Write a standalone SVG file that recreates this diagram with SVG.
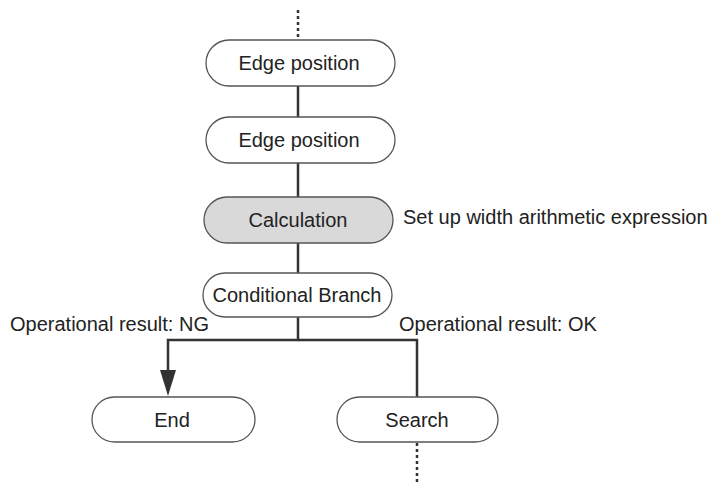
<svg xmlns="http://www.w3.org/2000/svg" width="715" height="483" viewBox="0 0 715 483">
<style>
.node{fill:#fff;stroke:#555;stroke-width:1.3}
.gray{fill:#d9d9d9}
.t{font-family:"Liberation Sans",Arial,sans-serif;font-size:20px;fill:#222}
.c{text-anchor:middle;dominant-baseline:central}
.ln{stroke:#333;stroke-width:2.5;fill:none}
.dot{stroke:#333;stroke-width:2.5;fill:none;stroke-dasharray:3 3}
</style>
<rect width="715" height="483" fill="#fff"/>
<g id="connectors">
<line class="dot" x1="298" y1="10" x2="298" y2="40"/>
<line class="ln" x1="298" y1="86" x2="298" y2="118"/>
<line class="ln" x1="298" y1="163" x2="298" y2="197"/>
<line class="ln" x1="298" y1="243" x2="298" y2="273"/>
<polyline class="ln" points="298,317 298,340 168,340 168,372"/>
<polygon points="160,370 176,370 168,396" fill="#333"/>
<polyline class="ln" points="298,340 417,340 417,397"/>
<line class="dot" x1="417" y1="443" x2="417" y2="483"/>
</g>
<g id="n1"><rect class="node" x="206" y="40" width="189" height="46" rx="23"/><text class="t c" x="299" y="63">Edge position</text></g>
<g id="n2"><rect class="node" x="206" y="117" width="189" height="46" rx="23"/><text class="t c" x="299" y="140">Edge position</text></g>
<g id="n3"><rect class="node gray" x="204" y="197" width="189" height="46" rx="23"/><text class="t c" x="298" y="220">Calculation</text></g>
<text class="t" x="403" y="224">Set up width arithmetic expression</text>
<g id="n4"><rect class="node" x="203" y="273" width="189" height="44" rx="22"/><text class="t c" x="297" y="295">Conditional Branch</text></g>
<text class="t" x="10" y="331">Operational result: NG</text>
<text class="t" x="399" y="331">Operational result: OK</text>
<g id="n5"><rect class="node" x="92" y="397" width="163" height="45" rx="22.5"/><text class="t c" x="172" y="420">End</text></g>
<g id="n6"><rect class="node" x="337" y="397" width="161" height="45" rx="22.5"/><text class="t c" x="417" y="420">Search</text></g>
</svg>
